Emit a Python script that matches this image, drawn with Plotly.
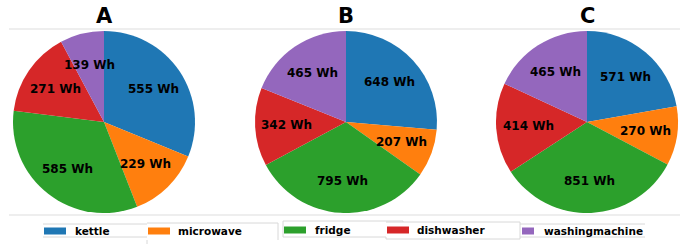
import math
import plotly.graph_objects as go

categories = ["kettle", "microwave", "fridge", "dishwasher", "washingmachine"]
colors = ["#1f77b4", "#ff7f0e", "#2ca02c", "#d62728", "#9467bd"]
panel_titles = ["A", "B", "C"]
values_A = [555, 229, 585, 271, 139]
values_B = [648, 207, 795, 342, 465]
values_C = [571, 270, 851, 414, 465]

W, H = 699, 244
FONT = "DejaVu Sans"

def px(x):
    return x / W

def py(y):
    return 1 - y / H

fig = go.Figure()
centers = [104, 346, 587]
CY = 122
R = 91
LABEL_R = 0.65
annotations = []
for vals, cx in zip([values_A, values_B, values_C], centers):
    fig.add_trace(go.Pie(
        labels=categories, values=vals, sort=False, direction="clockwise", rotation=0,
        marker=dict(colors=colors, line=dict(width=0)),
        textinfo="none",
        hoverinfo="skip", showlegend=False,
        domain=dict(x=[px(cx - R), px(cx + R)], y=[py(CY + R), py(CY - R)]),
    ))
    total = sum(vals)
    cum = 0
    for v in vals:
        ang = 2 * math.pi * (cum + v / 2) / total
        cum += v
        tx = cx + LABEL_R * R * math.sin(ang)
        ty = CY - LABEL_R * R * math.cos(ang)
        annotations.append(dict(text=f"{v} Wh", x=px(tx), y=py(ty), xref="paper", yref="paper",
                                showarrow=False, xanchor="center", yanchor="middle",
                                font=dict(family=FONT, size=12, color="black", weight="bold")))

for t, cx in zip(panel_titles, centers):
    annotations.append(dict(text=t, x=px(cx), y=py(16), xref="paper", yref="paper",
                            showarrow=False, xanchor="center", yanchor="middle",
                            font=dict(family=FONT, size=21, color="black", weight="bold")))

shapes = []
# horizontal rules
for yy in [29, 215]:
    shapes.append(dict(type="line", xref="paper", yref="paper", x0=px(9), x1=px(680),
                       y0=py(yy), y1=py(yy), line=dict(color="#dddddd", width=1)))

# legend
sw_x = [44, 148, 284, 387, 522]
sw_w = [22, 22, 22, 22, 12]
txt_x = [73, 176, 313, 415, 542]
sw_y = [231, 231, 230, 230, 231]
for cat, col, sx, sw, tx, sy in zip(categories, colors, sw_x, sw_w, txt_x, sw_y):
    shapes.append(dict(type="rect", xref="paper", yref="paper", x0=px(sx), x1=px(sx + sw),
                       y0=py(sy + 3.5), y1=py(sy - 3.5), fillcolor=col, line=dict(width=0)))
    annotations.append(dict(text=cat, x=px(tx), y=py(sy), xref="paper", yref="paper",
                            showarrow=False, xanchor="left", yanchor="middle",
                            font=dict(family=FONT, size=10.5, color="black", weight="bold")))

# faint legend box borders
box_lines = [
    (43, 224, 147, 224), (43, 237, 147, 237), (147, 240, 147, 244),
    (147, 223, 278, 223), (278, 223, 278, 240),
    (283, 221, 403, 221), (283, 221, 283, 237), (283, 237, 386, 237),
    (403, 221, 403, 222), (386, 222, 520, 222), (386, 239, 520, 239), (520, 222, 520, 239),
    (386, 237, 386, 239),
    (520, 224, 645, 224), (520, 237, 645, 237),
]
for x0, y0, x1, y1 in box_lines:
    shapes.append(dict(type="line", xref="paper", yref="paper", x0=px(x0), x1=px(x1),
                       y0=py(y0), y1=py(y1), line=dict(color="#d8d8d8", width=1)))

fig.update_layout(
    width=W, height=H, margin=dict(l=0, r=0, t=0, b=0),
    paper_bgcolor="white", plot_bgcolor="white",
    annotations=annotations, shapes=shapes,
    font=dict(family=FONT),
)

fig.write_html("out.html", config={"displayModeBar": False},
               post_script="document.body.style.margin='0';document.body.style.overflow='hidden';")
